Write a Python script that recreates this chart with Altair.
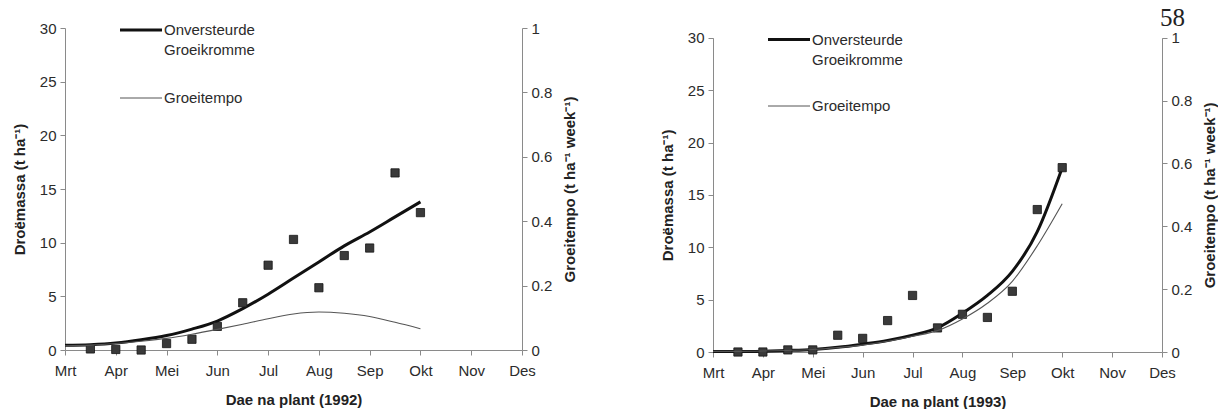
import altair as alt
import pandas as pd

# ---------------- data ----------------
months = ["Mrt", "Apr", "Mei", "Jun", "Jul", "Aug", "Sep", "Okt", "Nov", "Des"]
month_pos = list(range(10))
mass_ticks = [0, 5, 10, 15, 20, 25, 30]
rate_ticks = [0, 0.2, 0.4, 0.6, 0.8, 1]

# months after 1 March
curve_t = [0, 0.5, 1, 1.5, 2, 2.5, 3, 3.5, 4, 4.5, 5, 5.5, 6, 6.5, 7]
obs_t = [0.5, 1, 1.5, 2, 2.5, 3, 3.5, 4, 4.5, 5, 5.5, 6, 6.5, 7]

# 1992
mass_1992 = [0.45, 0.5, 0.65, 0.95, 1.35, 1.95, 2.7, 3.85, 5.2, 6.7, 8.2, 9.7, 11.0, 12.4, 13.8]
rate_1992 = [0.013, 0.015, 0.02, 0.027, 0.036, 0.049, 0.064, 0.08, 0.097, 0.112, 0.118,
             0.114, 0.104, 0.086, 0.066]
obs_1992 = [0.1, 0.05, 0.0, 0.6, 1.0, 2.2, 4.4, 7.9, 10.3, 5.8, 8.8, 9.5, 16.5, 12.8]

# 1993
mass_1993 = [0.05, 0.05, 0.08, 0.15, 0.25, 0.45, 0.75, 1.1, 1.6, 2.3, 3.7, 5.4, 7.7, 11.5, 17.6]
rate_1993 = [0.002, 0.002, 0.003, 0.005, 0.008, 0.014, 0.022, 0.034, 0.05, 0.068, 0.105,
             0.155, 0.225, 0.338, 0.472]
obs_1993 = [0.0, 0.0, 0.2, 0.2, 1.6, 1.3, 3.0, 5.4, 2.3, 3.6, 3.3, 5.8, 13.6, 17.6]

legend_labels = ["Onversteurde", "Groeikromme", "Groeitempo"]
mass_title = "Droëmassa (t ha⁻¹)"
rate_title = "Groeitempo (t ha⁻¹ week⁻¹)"
x_title = "Dae na plant ({})"
page_number = "58"

FONT = "Liberation Sans"
TEXT = "#2b2b2b"
label_expr = "[" + ",".join("'%s'" % m for m in months) + "][datum.value]"


def panel(year, mass, rate, obs, w, h, top, leg_y, page=False):
    curves = pd.DataFrame({"t": curve_t, "mass": mass, "rate": rate})
    points = pd.DataFrame({"t": obs_t, "mass": obs})
    one = pd.DataFrame({"k": [0]})
    yrange = [h, top]

    x = alt.X("t:Q", scale=alt.Scale(domain=[0, 9], nice=False, zero=False),
              axis=alt.Axis(values=month_pos, labelExpr=label_expr,
                            title=x_title.format(year), labelPadding=8,
                            titlePadding=14, labelFlush=False))
    ymass = alt.Y("mass:Q", scale=alt.Scale(domain=[0, 30], nice=False, range=yrange),
                  axis=alt.Axis(values=mass_ticks, title=mass_title, orient="left",
                                labelPadding=4, titlePadding=12))
    thick = alt.Chart(curves).mark_line(color="#111111", strokeWidth=3,
                                        interpolate="monotone").encode(x=x, y=ymass)
    pts = alt.Chart(points).mark_square(size=68, fill="#3a3a3a", stroke="#151515",
                                        strokeWidth=0.8, opacity=1).encode(x=x, y=ymass)

    base = alt.Chart(one)
    y0, y1, y2 = leg_y
    leg = [
        base.mark_rule(color="#111111", strokeWidth=3).encode(
            x=alt.value(55), x2=alt.value(97), y=alt.value(y0)),
        base.mark_rule(color="#555555", strokeWidth=1).encode(
            x=alt.value(55), x2=alt.value(97), y=alt.value(y2)),
        base.mark_text(align="left", baseline="middle", font=FONT, fontSize=15,
                       color=TEXT).encode(x=alt.value(99), y=alt.value(y0),
                                          text=alt.value(legend_labels[0])),
        base.mark_text(align="left", baseline="middle", font=FONT, fontSize=15,
                       color=TEXT).encode(x=alt.value(99), y=alt.value(y1),
                                          text=alt.value(legend_labels[1])),
        base.mark_text(align="left", baseline="middle", font=FONT, fontSize=15,
                       color=TEXT).encode(x=alt.value(99), y=alt.value(y2),
                                          text=alt.value(legend_labels[2])),
    ]
    if page:
        leg.append(base.mark_text(align="right", baseline="alphabetic",
                                  font="Liberation Serif", fontSize=25,
                                  color="#222222").encode(
            x=alt.value(w + 23), y=alt.value(-2), text=alt.value(page_number)))

    thin = alt.Chart(curves).mark_line(color="#555555", strokeWidth=1.1,
                                       interpolate="monotone").encode(
        x=x,
        y=alt.Y("rate:Q", scale=alt.Scale(domain=[0, 1], nice=False, range=yrange),
                axis=alt.Axis(orient="right", values=rate_ticks, format="~g",
                              title=rate_title, titleAngle=270, titleBaseline="top",
                              labelPadding=4, titlePadding=11)))

    return alt.layer(alt.layer(thick, pts, *leg), thin).resolve_scale(
        y="independent").properties(width=w, height=h)


left = panel(1992, mass_1992, rate_1992, obs_1992, 457, 322, 0, (2, 22, 70))
right = panel(1993, mass_1993, rate_1993, obs_1993, 449, 324, 9.8, (11.5, 31.5, 78),
              page=True)

chart = alt.hconcat(left, right, spacing=82).properties(
    padding={"left": 12, "top": 6, "right": 0, "bottom": 0}
).configure_view(stroke=None).configure_axis(
    grid=False,
    domainColor="#8a8a8a",
    tickColor="#8a8a8a",
    tickSize=5,
    labelFont=FONT,
    labelFontSize=15,
    labelColor=TEXT,
    titleFont=FONT,
    titleFontSize=15,
    titleFontWeight="bold",
    titleColor="#222222",
)

chart.save("out.html", embed_options={"renderer": "svg", "actions": False})
